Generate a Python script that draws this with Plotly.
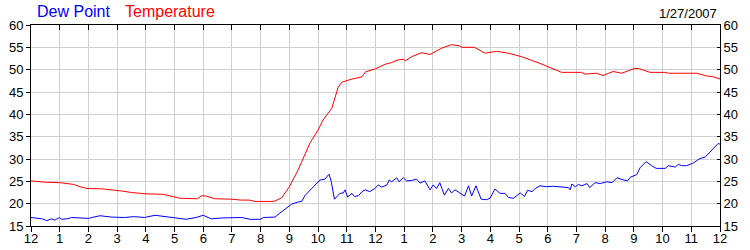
import plotly.graph_objects as go

# Temperature (hours after midnight, degrees F)
temp_hours = [0, 0.5, 1.0, 1.5, 1.65, 1.95, 2.5, 3.0, 3.2, 3.5, 4.0, 4.6, 5.0, 5.2, 5.8, 5.95, 6.1, 6.4, 7.0, 7.3, 7.6,
              7.8, 8.4, 8.5, 8.73, 9.0, 9.3, 9.72, 10.0, 10.17, 10.48, 10.6, 10.7, 10.83, 11.18, 11.53, 11.65,
              12.0, 12.33, 12.56, 12.79, 12.96, 13.05, 13.26, 13.61, 13.9, 14.3, 14.65, 14.94, 15.0, 15.45,
              15.81, 16.22, 16.62, 17.09, 17.73, 18.48, 19.18, 19.3, 19.7, 19.93, 20.28, 20.57, 21.04, 21.2,
              21.56, 22.08, 22.2, 23.19, 23.53, 23.77, 24.0]
temp_vals = [25.1, 24.8, 24.7, 24.3, 23.9, 23.4, 23.3, 23.0, 22.8, 22.5, 22.2, 22.1, 21.6, 21.2, 21.1, 21.8, 21.7, 21.1,
             21.0, 20.8, 20.8, 20.5, 20.5, 20.6, 21.3, 23.8, 27.5, 33.6, 36.5, 38.7, 41.4, 43.9, 46.1, 47.2, 47.9,
             48.4, 49.5, 50.2, 51.2, 51.6, 52.2, 52.3, 52.0, 52.9, 53.8, 53.4, 54.8, 55.6, 55.3, 55.0, 55.0,
             53.7, 54.1, 53.7, 52.9, 51.4, 49.4, 49.4, 49.0, 49.2, 48.7, 49.6, 49.2, 50.3, 50.2,
             49.4, 49.4, 49.2, 49.2, 48.6, 48.4, 47.9]

# Dew point (hours after midnight, degrees F)
dew_hours = [0, 0.2, 0.4, 0.55, 0.72, 0.83, 0.99, 1.07, 1.25, 1.42, 1.65, 1.8, 2.0, 2.12, 2.4, 2.8, 3.25, 3.6, 3.95,
             4.32, 4.67, 5.0, 5.4, 5.75, 6.0, 6.17, 6.29, 6.64, 6.99, 7.1, 7.34, 7.63, 7.98, 8.1, 8.5, 8.67, 8.85,
             9.08, 9.31, 9.43, 9.54, 9.72, 9.84, 10.07, 10.24, 10.38, 10.46, 10.57, 10.76, 10.88, 10.94, 11.03,
             11.18, 11.27, 11.41, 11.53, 11.64, 11.8, 11.98, 12.1, 12.22, 12.4, 12.48, 12.56, 12.74, 12.82,
             12.97, 13.08, 13.26, 13.43, 13.55, 13.72, 13.9, 14.01, 14.13, 14.24, 14.4, 14.54, 14.65, 14.77,
             14.94, 15.1, 15.24, 15.35, 15.5, 15.68, 15.87, 15.99, 16.16, 16.34, 16.51, 16.63, 16.8, 17.04,
             17.19, 17.3, 17.45, 17.57, 17.73, 17.96, 18.2, 18.43, 18.72, 18.78, 18.84, 18.96, 19.07, 19.19,
             19.37, 19.46, 19.65, 19.83, 20.06, 20.24, 20.41, 20.64, 20.78, 20.87, 21.1, 21.22, 21.43, 21.62,
             21.78, 22.09, 22.2, 22.44, 22.55, 22.67, 22.84, 23.07, 23.3, 23.48, 23.65, 23.83, 23.94, 24.0]
dew_vals = [16.9, 16.7, 16.6, 16.2, 16.6, 16.3, 16.9, 16.5, 16.6, 16.9, 16.8, 16.9, 16.7, 16.9, 17.3, 17.0, 16.9, 17.1,
            16.9, 17.4, 17.1, 16.9, 16.5, 16.9, 17.4, 16.9, 16.6, 16.8, 16.9, 16.8, 16.9, 16.5, 16.5, 16.9, 17.0,
            17.9, 18.7, 19.9, 20.4, 20.5, 21.8, 23.1, 23.8, 25.3, 25.5, 26.6, 24.9, 21.0, 22.3, 22.4, 23.1, 21.5,
            22.3, 21.6, 21.8, 22.7, 23.1, 22.7, 23.4, 24.2, 23.7, 24.2, 25.3, 24.9, 25.8, 24.9,
            25.8, 25.1, 25.2, 25.5, 24.6, 25.1, 23.1, 24.2, 23.4, 24.7, 21.9, 23.4, 22.4, 23.1,
            22.4, 21.7, 24.0, 21.7, 24.0, 21.0, 20.9, 21.2, 23.3, 22.3, 22.3, 21.4, 21.2, 22.4,
            21.6, 23.0, 22.7, 23.4, 24.0, 23.8, 23.9, 23.8, 23.6, 23.1, 24.4, 23.8, 24.3, 24.0,
            24.5, 23.6, 24.7, 24.5, 24.9, 24.7, 25.8, 25.3, 25.1, 25.9, 26.5, 28.1, 29.4, 28.5,
            27.9, 27.9, 28.5, 28.2, 28.8, 28.5, 28.5, 29.1, 30.1, 30.4, 31.6, 32.9, 33.5, 33.3]

tick_hours = list(range(0, 25))
tick_labels = ["12", "1", "2", "3", "4", "5", "6", "7", "8", "9", "10", "11",
               "12", "1", "2", "3", "4", "5", "6", "7", "8", "9", "10", "11", "12"]
y_ticks = [15, 20, 25, 30, 35, 40, 45, 50, 55, 60]
date_label = "1/27/2007"

FONT = "Liberation Sans, Arial, sans-serif"

fig = go.Figure()
fig.add_trace(go.Scatter(x=dew_hours, y=dew_vals, mode="lines", name="Dew Point",
                         line=dict(color="#0000ff", width=1)))
fig.add_trace(go.Scatter(x=temp_hours, y=temp_vals, mode="lines", name="Temperature",
                         line=dict(color="#ff0000", width=1)))
# invisible trace to keep the mirrored axes alive
fig.add_trace(go.Scatter(x=[0], y=[15], mode="markers", marker=dict(opacity=0),
                         xaxis="x2", yaxis="y2", showlegend=False, hoverinfo="skip"))

fig.update_layout(
    width=750, height=250,
    margin=dict(l=31, r=30, t=25, b=24),
    paper_bgcolor="white", plot_bgcolor="white",
    showlegend=False,
    font=dict(family=FONT, size=13, color="black"),
    xaxis=dict(range=[0, 24], tickvals=tick_hours, ticktext=tick_labels,
               showgrid=True, gridcolor="#d0d0d0", gridwidth=1,
               showline=True, linecolor="black", linewidth=1,
               ticks="outside", ticklen=5, tickcolor="black", ticklabelstandoff=-5,
               automargin=False, zeroline=False, fixedrange=True),
    yaxis=dict(range=[15, 60], tickvals=y_ticks,
               showgrid=True, gridcolor="#d0d0d0", gridwidth=1,
               showline=True, linecolor="black", linewidth=1,
               ticks="outside", ticklen=4, tickcolor="black",
               automargin=False, zeroline=False, fixedrange=True),
    xaxis2=dict(range=[0, 24], tickvals=tick_hours, overlaying="x", side="top", anchor="y",
                showticklabels=False, showgrid=False,
                showline=True, linecolor="black", linewidth=1,
                ticks="inside", ticklen=5, tickcolor="black",
                automargin=False, zeroline=False, fixedrange=True),
    yaxis2=dict(range=[15, 60], tickvals=y_ticks, overlaying="y", side="right", anchor="x",
                showticklabels=True, showgrid=False,
                showline=True, linecolor="black", linewidth=1,
                ticks="inside", ticklen=3, tickcolor="black",
                automargin=False, zeroline=False, fixedrange=True),
    annotations=[
        dict(text="Dew Point", x=35, y=12, xref="paper", yref="paper", showarrow=False,
             xanchor="left", yanchor="middle", font=dict(family=FONT, size=16, color="#0000ff")),
        dict(text="Temperature", x=123, y=12, xref="paper", yref="paper", showarrow=False,
             xanchor="left", yanchor="middle", font=dict(family=FONT, size=16, color="#ff0000")),
        dict(text=date_label, x=719, y=13, xref="paper", yref="paper", showarrow=False,
             xanchor="right", yanchor="middle", font=dict(family=FONT, size=13, color="black")),
    ],
)

# convert pixel-positioned annotations into paper coordinates
pw = 750 - 31 - 30
ph = 250 - 25 - 24
for a in fig.layout.annotations:
    px, py = a.x, a.y
    a.x = (px - 31) / pw
    a.y = (250 - 24 - py) / ph

fig.write_html("out.html")
